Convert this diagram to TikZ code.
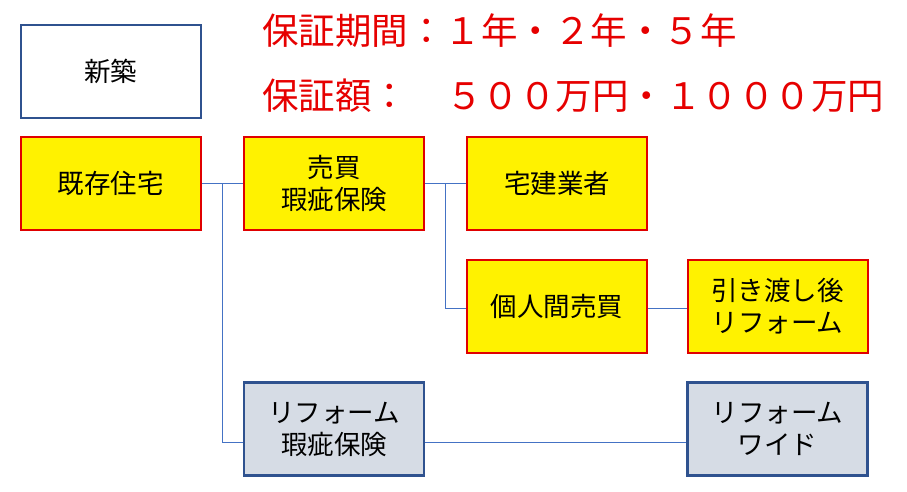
\documentclass[tikz,border=0pt]{standalone}
\usepackage{fontspec}
\usetikzlibrary{calc}
\setmainfont{Noto Sans CJK JP}
\definecolor{boxblue}{HTML}{2F528F}
\definecolor{wireblue}{HTML}{4472C4}
\definecolor{boxred}{HTML}{E00000}
\definecolor{boxgray}{HTML}{D6DCE5}
\definecolor{textred}{HTML}{E60000}
\tikzset{
  plan/.style={draw,line width=2pt,minimum width=180pt,minimum height=93pt,
    align=center,inner sep=0pt,font=\fontsize{26.5}{32}\selectfont},
  newbox/.style={plan,draw=boxblue,fill=white},
  hotbox/.style={plan,draw=boxred,fill=yellow},
  coolbox/.style={plan,draw=boxblue,fill=boxgray,line width=2.5pt},
  wire/.style={draw=wireblue,line width=1pt},
  note/.style={anchor=west,inner sep=0pt,text=textred,font=\fontsize{36.5}{40}\selectfont}
}
\begin{document}
\begin{tikzpicture}[x=1pt,y=-1pt]
					\useasboundingbox (0,0) rectangle (907,491);
					
					\node [newbox]  (new)     at (110.5,71.5) {新築};
					\node [hotbox]  (exist)   at (110.5,183.5) {既存住宅};
					\node [hotbox]  (sale)    at (334,183.5) {売買\\瑕疵保険};
					\node [hotbox]  (dealer)  at (557,183.5) {宅建業者};
					\node [hotbox]  (private) at (557,306) {個人間売買};
					\node [hotbox]  (after)   at (777.5,306) {引き渡し後\\リフォーム};
					\node [coolbox] (reform)  at (334,429) {リフォーム\\瑕疵保険};
					\node [coolbox] (wide)    at (777.5,429) {リフォーム\\ワイド};
					
					\node [note] (term)   at (262,31) {保証期間：１年・２年・５年};
					\node [note] (amount) at (262,96) {保証額：\hspace{38pt}５００万円・１０００万円};
					
					% junctions of the tree
					\coordinate (jexist) at ($(exist.east)!0.5!(sale.west)$);
					\coordinate (jsale)  at ($(sale.east)!0.5!(dealer.west)$);
					
					\draw [wire] (exist.east) -- (sale.west);
					\draw [wire] (jexist) |- ([yshift=-13pt]reform.west);
					\draw [wire] ([yshift=-13pt]reform.east) -- ([yshift=-13pt]wide.west);
					\draw [wire] (sale.east) -- (dealer.west);
					\draw [wire] (jsale) |- ([yshift=-2pt]private.west);
					\draw [wire] ([yshift=-2pt]private.east) -- ([yshift=-2pt]after.west);
					
\end{tikzpicture}
\end{document}
